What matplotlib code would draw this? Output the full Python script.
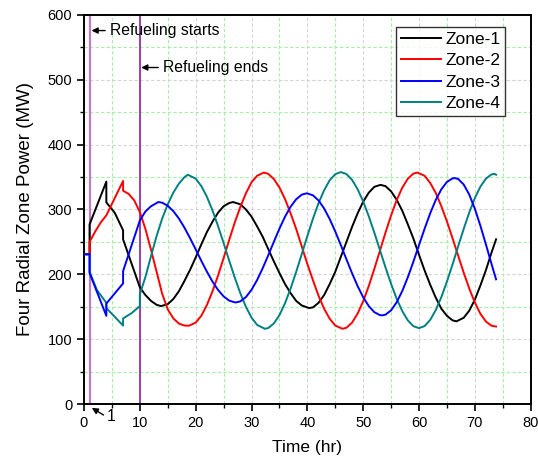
import matplotlib
matplotlib.use("Agg")
import matplotlib.pyplot as plt
from matplotlib.ticker import MultipleLocator

plt.rcParams['font.family'] = ['Liberation Sans', 'DejaVu Sans']

# ---- data ----
z1_t = [0, 1, 1, 4, 4, 5.5, 7, 7, 10, 11, 12, 13, 13.8,
        15, 16, 17, 18, 19, 20, 21, 22, 23, 24, 25, 26, 26.7,
        28, 29, 30, 31, 32, 33, 34, 35, 36, 37, 38, 39, 40.3,
        41, 42, 43, 44, 45, 46, 47, 48, 49, 50, 51, 52, 53.1,
        54, 55, 56, 57, 58, 59, 60, 61, 62, 63, 64, 65, 66, 66.7,
        68, 69, 70, 71, 72, 73, 73.8]
z1_p = [231, 231, 277, 343, 311, 295, 268, 254, 180, 168, 159, 153, 151,
        154, 162, 174, 190, 207, 226, 246, 265, 281, 295, 305, 310, 311.5,
        308, 300, 289, 274, 258, 239, 220, 202, 185, 171, 159, 152, 148,
        149, 156, 168, 185, 204, 227, 250, 273, 294, 312, 326, 335, 338,
        336, 328, 315, 298, 277, 255, 230, 206, 184, 164, 147, 136, 129, 127.5,
        133, 144, 161, 183, 207, 234, 254]

z2_t = [0, 1, 1, 2, 3, 4, 7, 7, 8, 9, 10,
        11, 12, 13, 14, 15, 16, 17, 18, 18.8,
        20, 21, 22, 23, 24, 25, 26, 27, 28, 29, 30, 31, 32.2,
        33, 34, 35, 36, 37, 38, 39, 40, 41, 42, 43, 44, 45, 46.3,
        47, 48, 49, 50, 51, 52, 53, 54, 55, 56, 57, 58, 59, 59.7,
        61, 62, 63, 64, 65, 66, 67, 68, 69, 70, 71, 72, 73, 73.8]
z2_p = [231, 231, 250, 266, 280, 291, 344, 329, 324, 314, 296,
        270, 238, 204, 170, 146, 132, 124, 121, 120.8,
        125.5, 136, 152.5, 173.5, 198, 225, 253, 280, 304, 325, 342, 352, 357,
        355, 347, 334, 316, 294, 270, 243, 216, 191, 167, 147, 131.5, 121, 116,
        117.6, 125.4, 139.4, 158.5, 182, 208.5, 236.5, 264.5, 291, 314.5, 333.6, 347.6, 355.4, 357,
        352, 341, 325.5, 305, 281.6, 255.7, 229, 202.6, 178, 156.6, 139, 127, 120.6, 119.5]

z3_t = [0, 1, 1, 4, 4, 7, 7, 10, 11, 12, 13, 13.3,
        14, 15, 16, 17, 18, 19, 20, 21, 22, 23, 24, 25, 26, 27, 27.2,
        28, 29, 30, 31, 32, 33, 34, 35, 36, 37, 38, 39, 39.9,
        41, 42, 43, 44, 45, 46, 47, 48, 49, 50, 51, 52, 53, 53.4,
        54, 55, 56, 57, 58, 59, 60, 61, 62, 63, 64, 65, 66, 66.4,
        67, 68, 69, 70, 71, 72, 73, 73.8]
z3_p = [231, 231, 202, 136, 155, 186, 205, 283, 297, 305, 310, 311.5,
        310.5, 305.8, 297.5, 286, 271.8, 255.7, 238.5, 221, 204.3, 189, 176, 166, 159.5, 156.8, 156.7,
        158.3, 164.9, 176.1, 191.2, 209.4, 229.4, 250.2, 270.4, 288.9, 304.3, 315.8, 322.9, 325,
        321.9, 314, 301.6, 285.3, 266.1, 245, 223.2, 201.8, 181.9, 164.6, 151, 141.6, 137.1, 136.7,
        137.8, 144.5, 156.9, 174.3, 195.6, 219.8, 245.2, 270.4, 294.1, 314.8, 331.2, 342.5, 348, 348.5,
        347.1, 338.6, 322.9, 301.1, 274.7, 245.5, 215.5, 192.3]

z4_t = [0, 1, 1, 2.3, 4, 4, 7, 7, 8.5, 10, 10,
        11, 12, 13, 14, 15, 16, 17, 18, 18.6,
        20, 21, 22, 23, 24, 25, 26, 27, 28, 29, 30, 31, 32.4,
        33, 34, 35, 36, 37, 38, 39, 40, 41, 42, 43, 44, 45, 46,
        47, 48, 49, 50, 51, 52, 53, 54, 55, 56, 57, 58, 59, 60,
        61, 62, 63, 64, 65, 66, 67, 68, 69, 70, 71, 72, 73, 73.5, 73.8]
z4_p = [231, 231, 204, 176, 156, 148, 121, 132, 140, 151, 169,
        196, 228, 259, 286, 308, 326, 340, 350, 353.6,
        347.6, 336.3, 319.8, 298.9, 274.6, 248.3, 221.3, 195, 170.7, 149.8, 133.3, 122, 116,
        117.2, 124.2, 137.1, 155.4, 178.1, 203.8, 231.3, 259.1, 285.7, 309.7, 329.6, 345.1, 354.5, 357.7,
        354.7, 345.8, 331.4, 312.4, 289.6, 264.1, 237.4, 210.6, 185.1, 162.3, 143.3, 128.9, 120, 117,
        120.2, 129.7, 144.8, 164.9, 188.9, 215.3, 242.9, 270.1, 295.5, 317.7, 335.4, 347.8, 354.2, 355, 353.6]

zone_labels = ['Zone-1', 'Zone-2', 'Zone-3', 'Zone-4']
zone_colors = ['#000000', '#FF0000', '#0000FF', '#008080']
refuel_start = 1
refuel_end = 10

# ---- figure ----
fig = plt.figure(figsize=(5.38, 4.61), dpi=100)
ax = fig.add_axes([84 / 538, 57 / 461, (530.7 - 84) / 538, (404 - 15) / 461])

ax.set_xlim(0, 80)
ax.set_ylim(0, 600)
ax.xaxis.set_major_locator(MultipleLocator(10))
ax.xaxis.set_minor_locator(MultipleLocator(5))
ax.yaxis.set_major_locator(MultipleLocator(100))
ax.yaxis.set_minor_locator(MultipleLocator(50))

ax.set_axisbelow(True)
ax.grid(which='major', color='#d4d4d4', ls=(0, (3, 2)), lw=0.8)
ax.grid(which='minor', color='#a6f0a6', ls=(0, (3, 2)), lw=0.8)

ax.axvline(refuel_start, color='#C07AC8', lw=1.6, zorder=2)
ax.axvline(refuel_end, color='#9B3FAA', lw=1.4, zorder=2)

series = [(z1_t, z1_p), (z2_t, z2_p), (z3_t, z3_p), (z4_t, z4_p)]
handles = []
zorders = [3, 4, 6, 5]
for (t, p), lab, col, zo in zip(series, zone_labels, zone_colors, zorders):
    h, = ax.plot(t, p, color=col, lw=1.4, label=lab, zorder=zo)
    handles.append(h)

leg = ax.legend(handles=handles, loc='upper right', bbox_to_anchor=(0.9425, 0.969),
                borderaxespad=0, fontsize=12.5, frameon=True, fancybox=False,
                edgecolor='black', handlelength=2.3, handletextpad=0.25,
                labelspacing=0.36, borderpad=0.28)
leg.get_frame().set_linewidth(1.0)

for s in ax.spines.values():
    s.set_linewidth(1.4)
    s.set_color('black')

ax.tick_params(which='both', direction='out', top=False, right=False)
ax.tick_params(which='major', length=5, width=1.2, labelsize=10.5)
ax.tick_params(which='minor', length=3, width=1.0)

ax.set_xlabel('Time (hr)', fontsize=12.5, labelpad=7)
ax.set_ylabel('Four Radial Zone Power (MW)', fontsize=13.5, labelpad=10)

arrow = dict(arrowstyle='-|>', color='black', lw=1.0, mutation_scale=9, shrinkA=0, shrinkB=0)
ax.annotate('', xy=(1.35, 576), xytext=(3.8, 576), arrowprops=arrow)
ax.text(4.6, 576, 'Refueling starts', fontsize=11.3, va='center', ha='left')
ax.annotate('', xy=(10.25, 519), xytext=(13.3, 519), arrowprops=arrow)
ax.text(14.2, 519, 'Refueling ends', fontsize=11.3, va='center', ha='left')
ax.annotate('', xy=(1.4, -6), xytext=(3.5, -17), arrowprops=arrow, annotation_clip=False)
ax.text(4.1, -19, '1', fontsize=11.3, va='center', ha='left', clip_on=False)

fig.savefig('out.png', dpi=100)
